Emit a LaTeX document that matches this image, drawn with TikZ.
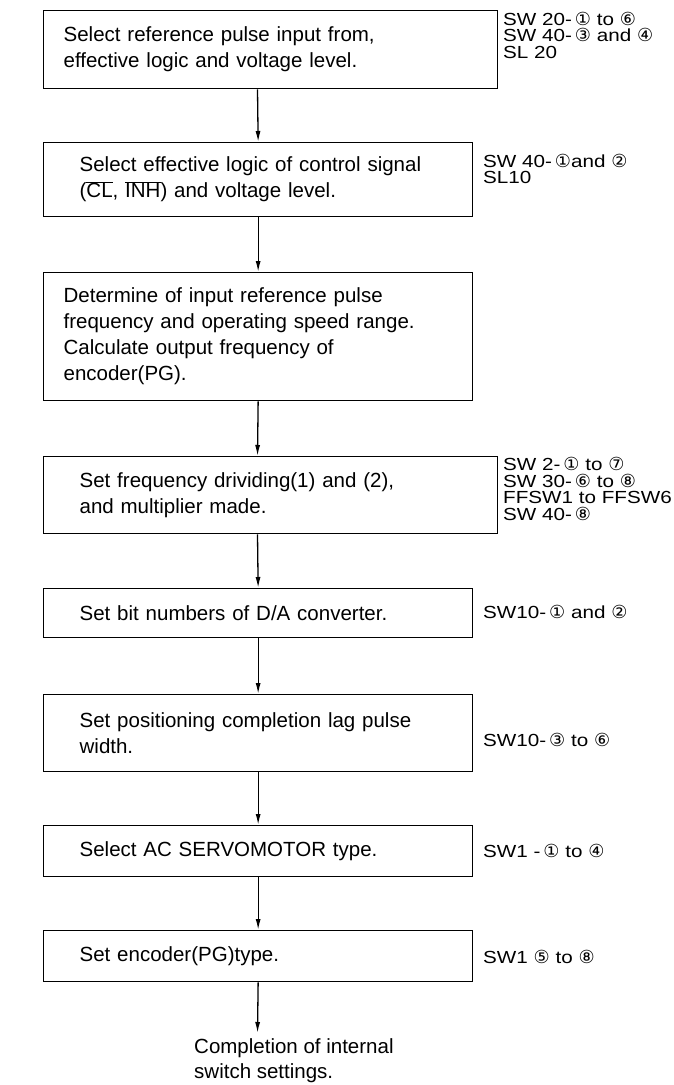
\documentclass[tikz,border=0pt]{standalone}
\usepackage{fontspec}
\setmainfont{Liberation Sans}
\newfontfamily\sidefont{Liberation Sans}[FakeStretch=1.18]
\newfontfamily\cnumfont{DejaVu Sans}
\newcommand{\cn}[1]{{\cnumfont\fontsize{18}{16}\selectfont #1}}
\newcommand{\ovl}[1]{$\overline{\hbox{#1}}$}
\usetikzlibrary{arrows.meta}
\tikzset{
  box/.style={draw, line width=1.3pt, rectangle, anchor=north west, align=left,
    font=\fontsize{20.5}{26}\selectfont, inner ysep=0pt},
  wide/.style={box, minimum width=454pt, inner xsep=20pt, text width=414pt},
  narrow/.style={box, minimum width=429pt, inner xsep=36pt, text width=357pt},
  side/.style={anchor=west, align=left, inner sep=0pt, font=\sidefont\fontsize{17.5}{16.5}\selectfont},
  flow/.style={line width=1.3pt, -{Latex[length=11pt,width=5pt]}}
}
\begin{document}
\begin{tikzpicture}[x=1pt,y=-1pt]
\useasboundingbox (0,0) rectangle (673,1085);
\coordinate (ax) at (257.5,0);
\node[wide, minimum height=78pt] (b1) at (43,10)
  {Select reference pulse input from,\\effective logic and voltage level.};
\node[narrow, minimum height=74pt] (b2) at (43,142)
  {Select effective logic of control signal\\(\ovl{CL}, \ovl{INH}) and voltage level.};
\node[box, minimum width=429pt, inner xsep=20pt, text width=389pt, minimum height=128pt] (b3) at (43,272)
  {Determine of input reference pulse\\frequency and operating speed range.\\Calculate output frequency of\\encoder(PG).};
\node[box, minimum width=454pt, inner xsep=36pt, text width=382pt, minimum height=77pt] (b4) at (43,456)
  {Set frequency drividing(1) and (2),\\and multiplier made.};
\node[narrow, minimum height=49pt] (b5) at (43,588)
  {Set bit numbers of D/A converter.};
\node[narrow, minimum height=77pt] (b6) at (43,694)
  {Set positioning completion lag pulse\\width.};
\node[narrow, minimum height=51pt] (b7) at (43,825)
  {Select AC SERVOMOTOR type.};
\node[narrow, minimum height=51pt] (b8) at (43,930)
  {Set encoder(PG)type.};
\node[anchor=north west, align=left, inner sep=0pt, font=\fontsize{20.5}{25}\selectfont] (end) at (194,1038)
  {Completion of internal\\switch settings.};
\coordinate (endtip) at (257.5,1033);

\node[side] (s1) at (503,35) {SW 20-\,\cn{①} to \cn{⑥}\\SW 40-\,\cn{③} and \cn{④}\\SL 20};
\node[side] (s2) at (483,169) {SW 40-\,\cn{①}and \cn{②}\\SL10};
\node[side] (s4) at (503,489) {SW 2-\,\cn{①} to \cn{⑦}\\SW 30-\,\cn{⑥} to \cn{⑧}\\FFSW1 to FFSW6\\SW 40-\,\cn{⑧}};
\node[side] (s5) at (483,612) {SW10-\,\cn{①} and \cn{②}};
\node[side] (s6) at (483,740) {SW10-\,\cn{③} to \cn{⑥}};
\node[side] (s7) at (483,851) {SW1 -\,\cn{①} to \cn{④}};
\node[side] (s8) at (483,957) {SW1 \cn{⑤} to \cn{⑧}};

\draw[flow] (b1.south -| ax) -- (b2.north);
\draw[flow] (b2.south) -- (b3.north);
\draw[flow] (b3.south) -- (b4.north -| ax);
\draw[flow] (b4.south -| ax) -- (b5.north);
\draw[flow] (b5.south) -- (b6.north);
\draw[flow] (b6.south) -- (b7.north);
\draw[flow] (b7.south) -- (b8.north);
\draw[flow] (b8.south) -- (endtip);
\end{tikzpicture}
\end{document}
